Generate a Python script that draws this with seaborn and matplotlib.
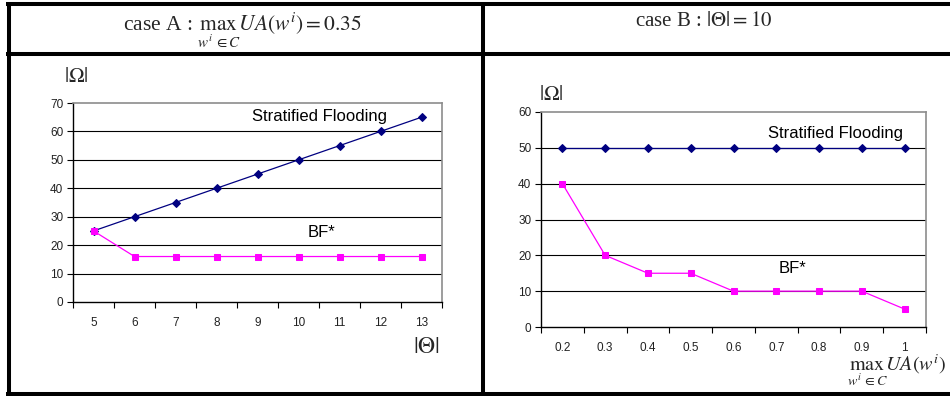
import numpy as np
import pandas as pd
import matplotlib
matplotlib.use("Agg")
import matplotlib.pyplot as plt
from matplotlib.lines import Line2D
import seaborn as sns

# ---------------- data ----------------
theta_labels = ["5", "6", "7", "8", "9", "10", "11", "12", "13"]
a_sf = [25, 30, 35, 40, 45, 50, 55, 60, 65]
a_bf = [25, 16, 16, 16, 16, 16, 16, 16, 16]

ua_labels = ["0.2", "0.3", "0.4", "0.5", "0.6", "0.7", "0.8", "0.9", "1"]
b_sf = [50, 50, 50, 50, 50, 50, 50, 50, 50]
b_bf = [40, 20, 15, 15, 10, 10, 10, 10, 5]

sns.set_theme(style="white")
plt.rcParams["font.family"] = ["Liberation Sans", "DejaVu Sans"]
plt.rcParams["mathtext.fontset"] = "stix"

W, H = 950, 396
fig = plt.figure(figsize=(W / 100, H / 100), dpi=100)
fig.patch.set_facecolor("white")


def px_rect(x0, y0, x1, y1):
    return [x0 / W, 1 - y1 / H, (x1 - x0) / W, (y1 - y0) / H]


NAVY = "#000080"
MAG = "#FF00FF"


def draw_panel(ax, labels, sf, bf, ymax):
    n = len(labels)
    idx = np.arange(n)
    df = pd.DataFrame({
        "x": np.concatenate([idx, idx]),
        "y": np.concatenate([sf, bf]),
        "series": ["SF"] * n + ["BF"] * n,
    })
    # gridlines
    for v in range(10, ymax, 10):
        ax.axhline(v, color="black", lw=0.8, zorder=1)
    sns.lineplot(data=df[df.series == "SF"], x="x", y="y", ax=ax, color=NAVY,
                 marker="D", markersize=4.5, markeredgecolor=NAVY, lw=0.9,
                 zorder=3, legend=False)
    sns.lineplot(data=df[df.series == "BF"], x="x", y="y", ax=ax, color=MAG,
                 marker="s", markersize=4.8, markeredgecolor=MAG, lw=0.9,
                 zorder=4, legend=False)
    ax.set_xlim(-0.5, n - 0.5)
    ax.set_ylim(0, ymax)
    ax.set_xlabel("")
    ax.set_ylabel("")
    ax.set_xticks(idx)
    ax.set_xticklabels(labels)
    ax.set_xticks(np.arange(-0.5, n, 1.0), minor=True)
    ax.set_yticks(range(0, ymax + 1, 10))
    ax.tick_params(axis="x", which="major", length=0, pad=11, labelsize=8.5,
                   labelcolor="#222222")
    ax.tick_params(axis="x", which="minor", length=4, width=0.8,
                   direction="out", color="black", bottom=True)
    ax.tick_params(axis="y", length=4, width=0.8, direction="out",
                   color="black", left=True, labelsize=8.5, pad=3,
                   labelcolor="#222222")
    for s in ["left", "bottom"]:
        ax.spines[s].set_color("black")
        ax.spines[s].set_linewidth(1.0)
    for s in ["top", "right"]:
        ax.spines[s].set_color("#8c8c8c")
        ax.spines[s].set_linewidth(1.2)
    ax.set_facecolor("white")


axA = fig.add_axes(px_rect(73, 103, 442, 302))
draw_panel(axA, theta_labels, a_sf, a_bf, 70)
axA.text(5.52, 65.4, "Stratified Flooding", ha="center", va="center",
         fontsize=12, color="black")
axA.text(5.55, 24.6, "BF*", ha="center", va="center", fontsize=12,
         color="black")

axB = fig.add_axes(px_rect(541, 112, 926, 327))
draw_panel(axB, ua_labels, b_sf, b_bf, 60)
axB.text(6.39, 53.9, "Stratified Flooding", ha="center", va="center",
         fontsize=12, color="black")
axB.text(5.39, 16.2, "BF*", ha="center", va="center", fontsize=12,
         color="black")


def ftext(x, y, s, **kw):
    fig.text(x / W, 1 - y / H, s, **kw)


# axis labels
ftext(76, 76, r"$|\Omega|$", ha="center", va="center", fontsize=15)
ftext(551, 95, r"$|\Omega|$", ha="center", va="center", fontsize=15)
ftext(426, 347, r"$|\Theta|$", ha="center", va="center", fontsize=17)
ftext(897, 370, r"$\max_{w^i \in C} UA(w^i)$", ha="center", va="center",
      fontsize=14.5)

# header
ftext(242, 30, r"case A : $\max_{w^i \in C} UA(w^i) = 0.35$", ha="center",
      va="center", fontsize=15.5, family=["Liberation Serif"])
ftext(704, 21, r"case B : $|\Theta| = 10$", ha="center", va="center",
      fontsize=15, family=["Liberation Serif"])

# table borders
lw = 2.9
def hline(y, x0, x1):
    fig.add_artist(Line2D([x0 / W, x1 / W], [1 - y / H, 1 - y / H],
                          color="black", lw=lw, solid_capstyle="butt"))
def vline(x, y0, y1):
    fig.add_artist(Line2D([x / W, x / W], [1 - y0 / H, 1 - y1 / H],
                          color="black", lw=lw, solid_capstyle="butt"))

hline(4, 6, 950)
hline(53.5, 6, 950)
hline(393.5, 6, 950)
vline(8.5, 2, 396)
vline(483.5, 2, 396)

fig.savefig("out.png", dpi=100, facecolor="white")
